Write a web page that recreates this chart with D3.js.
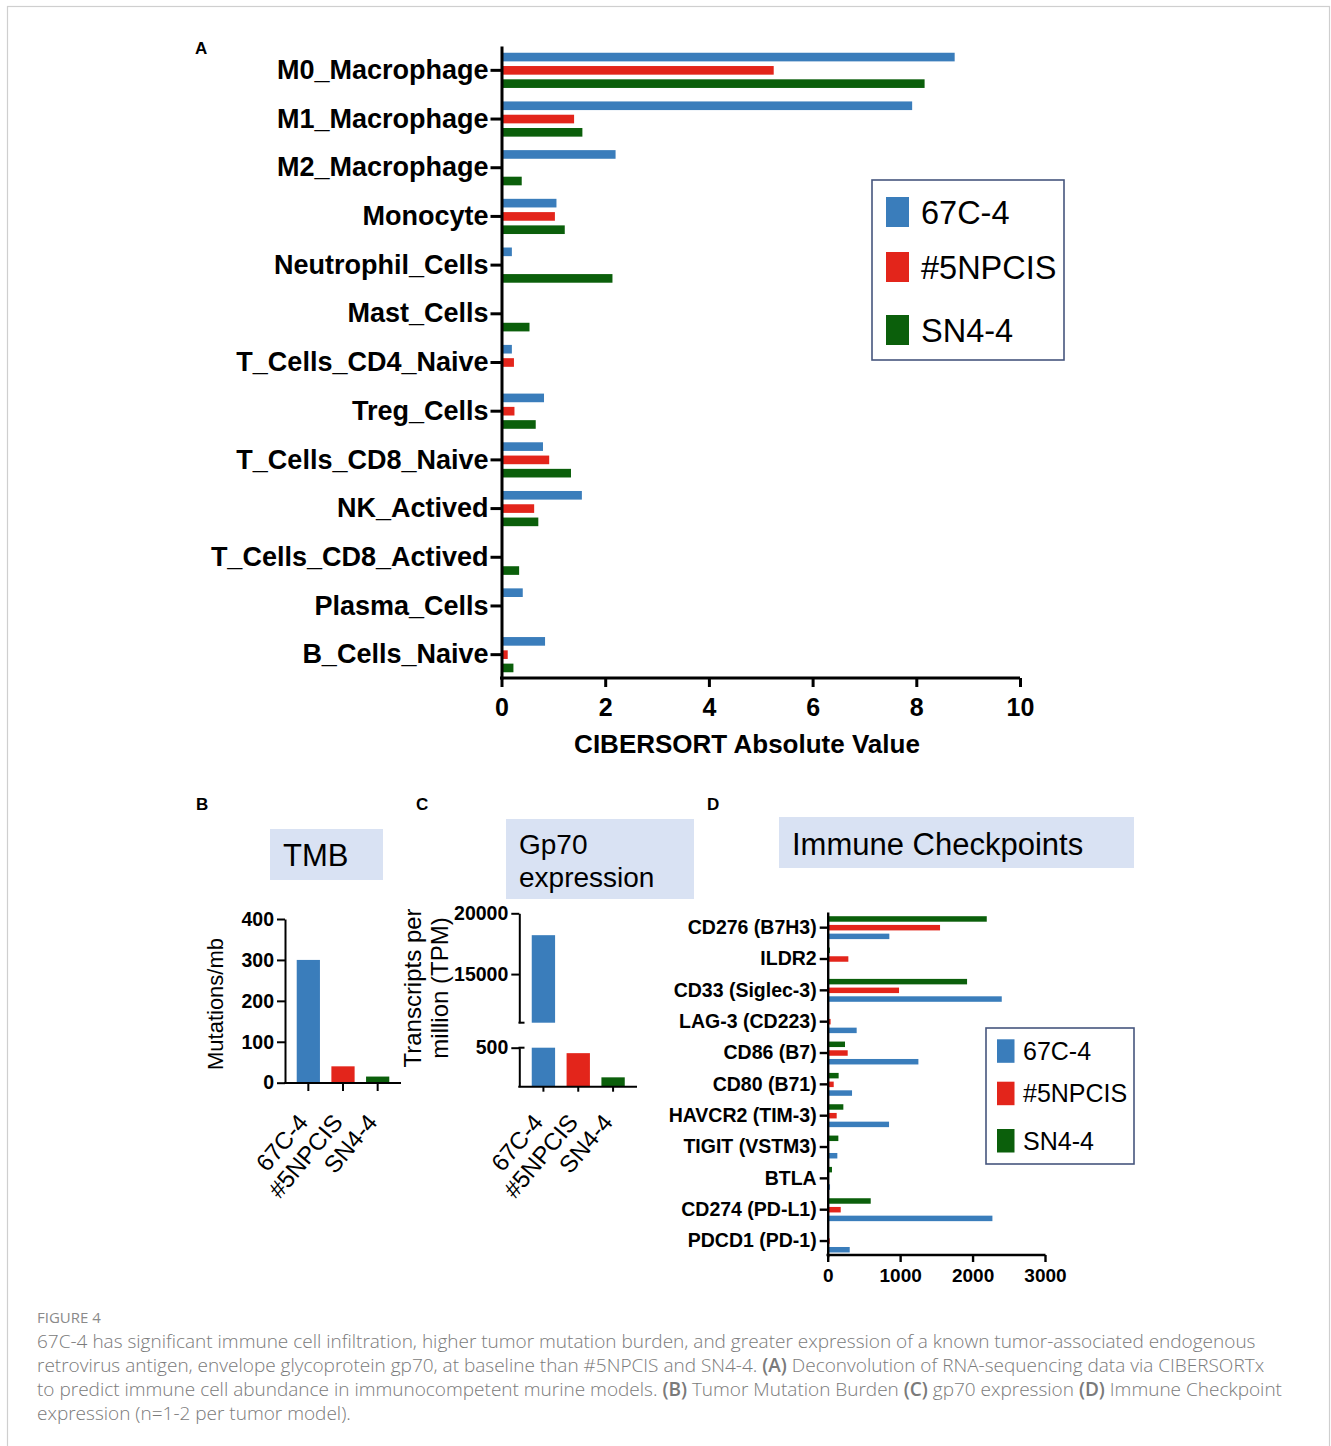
<!DOCTYPE html>
<html>
<head>
<meta charset="utf-8">
<script src="https://cdn.jsdelivr.net/npm/d3@7"></script>
<style>
    body { margin: 0; background: #fff; }
    svg { display: block; }
</style>
</head>
<body>
<svg id="fig" width="1331" height="1446"></svg>
<script>
// ---- data ----
const seriesNames = ["67C-4", "#5NPCIS", "SN4-4"];
const seriesColors = ["#3a7dbb", "#e3251b", "#0b5f0b"];

// A: CIBERSORT
const cellTypes = ["M0_Macrophage", "M1_Macrophage", "M2_Macrophage", "Monocyte", "Neutrophil_Cells",
    "Mast_Cells", "T_Cells_CD4_Naive", "Treg_Cells", "T_Cells_CD8_Naive", "NK_Actived",
    "T_Cells_CD8_Actived", "Plasma_Cells", "B_Cells_Naive"];
const cib67C4 = [8.74, 7.92, 2.2, 1.06, 0.2, 0, 0.2, 0.82, 0.8, 1.55, 0, 0.41, 0.84];
const cib5NPCIS = [5.25, 1.4, 0, 1.03, 0, 0.01, 0.24, 0.25, 0.92, 0.63, 0, 0, 0.12];
const cibSN44 = [8.16, 1.56, 0.39, 1.22, 2.14, 0.54, 0, 0.66, 1.34, 0.71, 0.34, 0, 0.23];
const cibTicks = [0, 2, 4, 6, 8, 10];

// B: TMB
const tmbValues = [300, 40, 15];
const tmbTicks = [0, 100, 200, 300, 400];

// C: gp70
const gp70Values = [18200, 430, 120];
const gp70UpperTicks = [15000, 20000];
const gp70LowerTicks = [500];

// D: immune checkpoints
const checkpoints = ["CD276 (B7H3)", "ILDR2", "CD33 (Siglec-3)", "LAG-3 (CD223)", "CD86 (B7)",
    "CD80 (B71)", "HAVCR2 (TIM-3)", "TIGIT (VSTM3)", "BTLA", "CD274 (PD-L1)", "PDCD1 (PD-1)"];
const ck67C4 = [851, 0, 2403, 400, 1252, 336, 847, 133, 32, 2274, 304];
const ck5NPCIS = [1551, 285, 985, 40, 276, 83, 124, 0, 0, 180, 28];
const ckSN44 = [2196, 30, 1924, 15, 239, 151, 216, 147, 59, 594, 0];
const ckTicks = [0, 1000, 2000, 3000];

const ARIAL = "'Liberation Sans', Arial, sans-serif";
const svg = d3.select("#fig");

// page frame
svg.append("rect")
    .attr("x", 7.5).attr("y", 6.5)
    .attr("width", 1322).attr("height", 1450)
    .attr("fill", "none").attr("stroke", "#cfcfcf").attr("stroke-width", 1.2);

function styleAxis(g, size, width) {
    g.attr("font-family", ARIAL).attr("font-size", size).attr("font-weight", "bold");
    g.selectAll("path, line").attr("stroke", "#000").attr("stroke-width", width);
    g.selectAll("text").attr("fill", "#000");
}

function panelLetter(txt, x, y) {
    svg.append("text").attr("x", x).attr("y", y).text(txt)
        .attr("font-family", ARIAL).attr("font-weight", "bold").attr("font-size", 17);
}

function titleBox(x, y, w, h, lines, size, top, lineGap) {
    svg.append("rect").attr("x", x).attr("y", y).attr("width", w).attr("height", h)
        .attr("fill", "#d9e2f3");
    lines.forEach((t, i) => {
        svg.append("text").attr("x", x + 13).attr("y", y + top + i * lineGap)
            .attr("font-family", ARIAL).attr("font-size", size).text(t);
    });
}

function legendBox(x, y, w, h, sw, swH, rowYs, txtX, size) {
    svg.append("rect").attr("x", x).attr("y", y).attr("width", w).attr("height", h)
        .attr("fill", "#fff").attr("stroke", "#46567e").attr("stroke-width", 1.6);
    seriesNames.forEach((s, i) => {
        svg.append("rect").attr("x", sw[0]).attr("y", rowYs[i]).attr("width", sw[1]).attr("height", swH)
            .attr("fill", seriesColors[i]);
        svg.append("text").attr("x", txtX).attr("y", rowYs[i] + swH / 2)
            .attr("dy", "0.36em")
            .attr("font-family", ARIAL).attr("font-size", size).text(s);
    });
}

// rotated category labels under the small bar panels
function rotatedLabels(x, baseY) {
    seriesNames.forEach(s => {
        const cx = x(s) + x.bandwidth() / 2;
        svg.append("text")
            .attr("transform", "translate(" + (cx + 1) + "," + baseY + ") rotate(-50)")
            .attr("text-anchor", "end")
            .attr("font-family", ARIAL).attr("font-size", 24)
            .text(s);
    });
}

/* ---------------- Panel A ---------------- */
function drawPanelA() {
    const x = d3.scaleLinear().domain([0, 10]).range([501.5, 1020]);
    const y = d3.scaleBand().domain(cellTypes).range([46, 679]);
    const inner = d3.scaleBand().domain(seriesNames).range([-17.6, 17.6]).paddingInner(0.35);
    const cols = [cib67C4, cib5NPCIS, cibSN44];

    const g = svg.append("g");
    seriesNames.forEach((s, si) => {
        g.selectAll(null)
            .data(cellTypes.map((c, i) => ({ c: c, v: cols[si][i] })))
            .enter()
            .append("rect")
            .attr("x", x(0))
            .attr("y", d => y(d.c) + y.bandwidth() / 2 + inner(s))
            .attr("width", d => x(d.v) - x(0))
            .attr("height", inner.bandwidth())
            .attr("fill", seriesColors[si]);
    });

    const ya = svg.append("g").attr("transform", "translate(" + x(0) + ",0)")
        .call(d3.axisLeft(y).tickSize(11).tickSizeOuter(0).tickPadding(2));
    styleAxis(ya, 27, 3);

    const xa = svg.append("g").attr("transform", "translate(0,678)")
        .call(d3.axisBottom(x).tickValues(cibTicks).tickSize(9).tickSizeOuter(0).tickPadding(11));
    styleAxis(xa, 25, 3);
    xa.select(".domain").attr("d", "M500,0H1020");

    svg.append("text").attr("x", 747).attr("y", 753).attr("text-anchor", "middle")
        .attr("font-family", ARIAL).attr("font-weight", "bold").attr("font-size", 26)
        .text("CIBERSORT Absolute Value");

    legendBox(872, 180, 192, 180, [886, 23], 30, [197, 252, 315], 921, 32.5);
    panelLetter("A", 195, 54);
}

/* ---------------- Panel B ---------------- */
function drawPanelB() {
    const y = d3.scaleLinear().domain([0, 400]).range([1082.7, 919]);
    const x = d3.scaleBand().domain(seriesNames).range([291, 395]).paddingInner(0.33).paddingOuter(0.165);

    svg.append("g").selectAll("rect")
        .data(tmbValues)
        .enter()
        .append("rect")
        .attr("x", (d, i) => x(seriesNames[i]))
        .attr("y", d => y(d))
        .attr("width", x.bandwidth())
        .attr("height", d => y(0) - y(d))
        .attr("fill", (d, i) => seriesColors[i]);

    const ya = svg.append("g").attr("transform", "translate(285,0)")
        .call(d3.axisLeft(y).tickValues(tmbTicks).tickSize(8).tickSizeOuter(0).tickPadding(3));
    styleAxis(ya, 19.5, 2);

    const xa = svg.append("g").attr("transform", "translate(0,1083)")
        .call(d3.axisBottom(x).tickSize(8).tickSizeOuter(0).tickFormat(""));
    styleAxis(xa, 20, 2);
    xa.select(".domain").attr("d", "M284,0H401");

    rotatedLabels(x, 1123);

    svg.append("text")
        .attr("transform", "translate(223,1004) rotate(-90)")
        .attr("text-anchor", "middle")
        .attr("font-family", ARIAL).attr("font-size", 22)
        .text("Mutations/mb");

    titleBox(270, 829, 113, 51, ["TMB"], 31, 37, 0);
    panelLetter("B", 196, 810);
}

/* ---------------- Panel C ---------------- */
function drawPanelC() {
    const yUp = d3.scaleLinear().domain([11000, 20000]).range([1022.7, 913.3]);
    const yLo = d3.scaleLinear().domain([0, 500]).range([1086.7, 1047.7]);
    const x = d3.scaleBand().domain(seriesNames).range([526, 630.5]).paddingInner(0.33).paddingOuter(0.165);

    const g = svg.append("g");
    // lower segment
    g.selectAll(null).data(gp70Values).enter().append("rect")
        .attr("x", (d, i) => x(seriesNames[i]))
        .attr("y", d => yLo(Math.min(d, 500)))
        .attr("width", x.bandwidth())
        .attr("height", d => yLo(0) - yLo(Math.min(d, 500)))
        .attr("fill", (d, i) => seriesColors[i]);
    // upper segment
    g.selectAll(null).data(gp70Values.filter(d => d > 11000)).enter().append("rect")
        .attr("x", (d, i) => x(seriesNames[i]))
        .attr("y", d => yUp(d))
        .attr("width", x.bandwidth())
        .attr("height", d => yUp(11000) - yUp(d))
        .attr("fill", (d, i) => seriesColors[i]);

    const fmt = d3.format("d");
    const yu = svg.append("g").attr("transform", "translate(519.3,0)")
        .call(d3.axisLeft(yUp).tickValues(gp70UpperTicks).tickFormat(fmt).tickSize(8).tickSizeOuter(0).tickPadding(3));
    styleAxis(yu, 19.5, 2);
    const yl = svg.append("g").attr("transform", "translate(519.3,0)")
        .call(d3.axisLeft(yLo).tickValues(gp70LowerTicks).tickFormat(fmt).tickSize(8).tickSizeOuter(0).tickPadding(3));
    styleAxis(yl, 19.5, 2);

    // axis break marks
    [yUp(11000), yLo(500)].forEach(yy => {
        svg.append("line").attr("x1", 518.5).attr("x2", 524.5).attr("y1", yy).attr("y2", yy)
            .attr("stroke", "#000").attr("stroke-width", 2);
    });

    const xa = svg.append("g").attr("transform", "translate(0,1086.7)")
        .call(d3.axisBottom(x).tickSize(5).tickSizeOuter(0).tickFormat(""));
    styleAxis(xa, 20, 2);
    xa.select(".domain").attr("d", "M518.3,0H637");

    rotatedLabels(x, 1123);

    svg.append("text")
        .attr("transform", "rotate(-90)")
        .attr("font-family", ARIAL).attr("font-size", 24)
        .attr("text-anchor", "middle")
        .selectAll("tspan")
        .data(["Transcripts per", "million (TPM)"])
        .enter()
        .append("tspan")
        .attr("x", -988)
        .attr("y", (d, i) => 421 + i * 27)
        .text(d => d);

    titleBox(506, 819, 188, 80, ["Gp70", "expression"], 28, 35, 33);
    panelLetter("C", 416, 810);
}

/* ---------------- Panel D ---------------- */
function drawPanelD() {
    const x = d3.scaleLinear().domain([0, 3000]).range([827.7, 1045]);
    const y = d3.scaleBand().domain(checkpoints).range([912, 1256.7]);
    const order = ["SN4-4", "#5NPCIS", "67C-4"];
    const inner = d3.scaleBand().domain(order).range([-11.45, 11.45]).paddingInner(0.37);
    const cols = [ck67C4, ck5NPCIS, ckSN44];

    const g = svg.append("g");
    seriesNames.forEach((s, si) => {
        g.selectAll(null)
            .data(checkpoints.map((c, i) => ({ c: c, v: cols[si][i] })))
            .enter()
            .append("rect")
            .attr("x", x(0))
            .attr("y", d => y(d.c) + y.bandwidth() / 2 + inner(s))
            .attr("width", d => x(d.v) - x(0))
            .attr("height", inner.bandwidth())
            .attr("fill", seriesColors[si]);
    });

    const ya = svg.append("g").attr("transform", "translate(" + x(0) + ",0)")
        .call(d3.axisLeft(y).tickSize(8).tickSizeOuter(0).tickPadding(3));
    styleAxis(ya, 19.5, 2.4);

    const xa = svg.append("g").attr("transform", "translate(0,1255)")
        .call(d3.axisBottom(x).tickValues(ckTicks).tickFormat(d3.format("d")).tickSize(7).tickSizeOuter(0).tickPadding(7));
    styleAxis(xa, 19, 2.4);
    xa.select(".domain").attr("d", "M826.5,0H1045.5");

    titleBox(779, 817, 355, 51, ["Immune Checkpoints"], 31, 38, 0);
    legendBox(986, 1028, 148, 136, [997, 17.5], 23.5, [1039.3, 1081.7, 1129], 1023, 25);
    panelLetter("D", 707, 810);
}

/* ---------------- Caption ---------------- */
function drawCaption() {
    const CAP = "'Open Sans', 'Noto Sans', sans-serif";
    svg.append("text").attr("x", 37).attr("y", 1323)
        .attr("font-family", CAP).attr("font-size", 15).attr("fill", "#8a8a8a")
        .text("FIGURE 4");

    const lines = [
        [["67C-4 has significant immune cell infiltration, higher tumor mutation burden, and greater expression of a known tumor-associated endogenous", 0]],
        [["retrovirus antigen, envelope glycoprotein gp70, at baseline than #5NPCIS and SN4-4. ", 0], ["(A)", 1], [" Deconvolution of RNA-sequencing data via CIBERSORTx", 0]],
        [["to predict immune cell abundance in immunocompetent murine models. ", 0], ["(B)", 1], [" Tumor Mutation Burden ", 0], ["(C)", 1], [" gp70 expression ", 0], ["(D)", 1], [" Immune Checkpoint", 0]],
        [["expression (n=1-2 per tumor model).", 0]]
    ];
    lines.forEach((parts, li) => {
        const t = svg.append("text").attr("x", 37).attr("y", 1348 + li * 24)
            .attr("font-family", CAP).attr("font-size", 19).attr("fill", "#7a7a7a")
            .attr("font-weight", 300);
        parts.forEach(p => {
            t.append("tspan").attr("font-weight", p[1] ? 600 : 300).text(p[0]);
        });
    });
}

drawPanelA();
drawPanelB();
drawPanelC();
drawPanelD();
drawCaption();
</script>
</body>
</html>
